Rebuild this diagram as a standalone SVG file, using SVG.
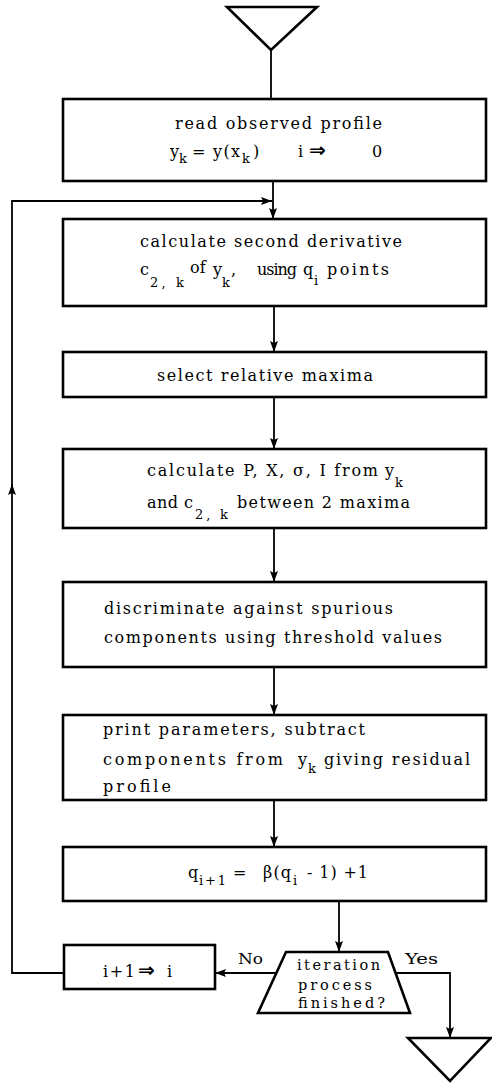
<svg xmlns="http://www.w3.org/2000/svg" width="492" height="1084" viewBox="0 0 492 1084">
<style>
.box{fill:#fff;stroke:#000;stroke-width:2.6}
.term{fill:none;stroke:#000;stroke-width:2.6;stroke-linejoin:miter}
.con{fill:none;stroke:#000;stroke-width:1.8}
.t{font-family:"DejaVu Serif","Liberation Serif",serif;font-size:16px;fill:#000}
.s{font-size:13px}
.d{font-family:"DejaVu Serif","Liberation Serif",serif;font-size:14.5px;fill:#000}
.ar{font-family:"DejaVu Sans",sans-serif;font-weight:bold;font-size:20px}
</style>
<defs>
<marker id="ah" markerUnits="userSpaceOnUse" markerWidth="12" markerHeight="9" refX="11" refY="4" orient="auto">
<path d="M0,0 L11,4 L0,8 L2,4 z" fill="#000"/>
</marker>
</defs>
<rect width="492" height="1084" fill="#fff"/>
<g id="connectors">
<path class="con" d="M271,50 V99"/>
<path class="con" d="M273,181 V219" marker-end="url(#ah)"/>
<path class="con" d="M274,306 V352" marker-end="url(#ah)"/>
<path class="con" d="M274,397 V449" marker-end="url(#ah)"/>
<path class="con" d="M274,528 V582" marker-end="url(#ah)"/>
<path class="con" d="M274,667 V715" marker-end="url(#ah)"/>
<path class="con" d="M274,800 V847" marker-end="url(#ah)"/>
<path class="con" d="M339,901 V952" marker-end="url(#ah)"/>
<path class="con" d="M276,973 H215" marker-end="url(#ah)"/>
<path class="con" d="M396,973 H450 V1038" marker-end="url(#ah)"/>
<path class="con" d="M64,973 H12 V484" marker-end="url(#ah)"/>
<path class="con" d="M12,490 V201 H272" marker-end="url(#ah)"/>
<text class="d" x="238" y="964" textLength="25" lengthAdjust="spacingAndGlyphs">No</text>
<text class="d" x="405" y="964" textLength="33" lengthAdjust="spacingAndGlyphs">Yes</text>
</g>
<g id="start">
<path class="term" d="M227,7 H317 L271,50 Z"/>
</g>
<g id="read">
<rect class="box" x="63" y="99" width="423" height="82"/>
<text class="t" x="175" y="129" textLength="207" lengthAdjust="spacing">read observed profile</text>
<text class="t" y="157"><tspan x="170">y</tspan><tspan class="s" x="179" y="163">k</tspan><tspan x="192" y="157" textLength="48" lengthAdjust="spacing">= y(x</tspan><tspan class="s" x="242" y="163">k</tspan><tspan x="253" y="157">)</tspan><tspan x="298">i</tspan><tspan class="ar" x="309">⇒</tspan><tspan x="372">0</tspan></text>
</g>
<g id="deriv">
<rect class="box" x="63" y="219" width="423" height="87"/>
<text class="t" x="140" y="247" textLength="262" lengthAdjust="spacing">calculate second derivative</text>
<text class="t" y="275"><tspan x="140">c</tspan><tspan class="s" x="150" y="287" textLength="34" lengthAdjust="spacing">2, k</tspan><tspan x="190" y="273">of</tspan><tspan x="213" y="275">y</tspan><tspan class="s" x="222" y="287">k</tspan><tspan x="231" y="275">,</tspan><tspan x="257" textLength="40" lengthAdjust="spacing">using</tspan><tspan x="303">q</tspan><tspan class="s" x="314" y="285">i</tspan><tspan x="327" y="275" textLength="62" lengthAdjust="spacing">points</tspan></text>
</g>
<g id="maxima">
<rect class="box" x="63" y="352" width="423" height="45"/>
<text class="t" x="157" y="381" textLength="216" lengthAdjust="spacing">select relative maxima</text>
</g>
<g id="params">
<rect class="box" x="63" y="449" width="423" height="79"/>
<text class="t" y="476"><tspan x="147" textLength="231" lengthAdjust="spacing">calculate P, X, σ, I from</tspan><tspan x="385">y</tspan><tspan class="s" x="395" y="487">k</tspan></text>
<text class="t" y="508"><tspan x="147" textLength="46" lengthAdjust="spacing">and c</tspan><tspan class="s" x="195" y="519" textLength="33" lengthAdjust="spacing">2, k</tspan><tspan x="237" y="508" textLength="173" lengthAdjust="spacing">between 2 maxima</tspan></text>
</g>
<g id="discriminate">
<rect class="box" x="63" y="582" width="423" height="85"/>
<text class="t" x="104" y="614" textLength="289" lengthAdjust="spacing">discriminate against spurious</text>
<text class="t" x="104" y="643" textLength="338" lengthAdjust="spacing">components using threshold values</text>
</g>
<g id="print">
<rect class="box" x="63" y="715" width="423" height="85"/>
<text class="t" x="103" y="735" textLength="262" lengthAdjust="spacing">print parameters, subtract</text>
<text class="t" y="765"><tspan x="103" textLength="180" lengthAdjust="spacing">components from</tspan><tspan x="298">y</tspan><tspan class="s" x="308" y="773">k</tspan><tspan x="324" y="765" textLength="146" lengthAdjust="spacing">giving residual</tspan></text>
<text class="t" x="103" y="792" textLength="68" lengthAdjust="spacing">profile</text>
</g>
<g id="update">
<rect class="box" x="63" y="847" width="423" height="54"/>
<text class="t" y="878"><tspan x="188">q</tspan><tspan class="s" x="199" y="885" textLength="27" lengthAdjust="spacing">i+1</tspan><tspan x="233" y="878">=</tspan><tspan x="263" textLength="28" lengthAdjust="spacing">β(q</tspan><tspan class="s" x="293" y="885">i</tspan><tspan x="307" y="878" textLength="61" lengthAdjust="spacing">- 1) +1</tspan></text>
</g>
<g id="decision">
<path class="box" d="M286,952 H388 L410,1013 H258 Z"/>
<text class="d" x="297" y="970" textLength="83" lengthAdjust="spacing">iteration</text>
<text class="d" x="298" y="990" textLength="74" lengthAdjust="spacing">process</text>
<text class="d" x="298" y="1008" textLength="87" lengthAdjust="spacing">finished?</text>
</g>
<g id="increment">
<rect class="box" x="64" y="945" width="151" height="44"/>
<text class="t" y="977"><tspan x="103" textLength="32" lengthAdjust="spacing">i+1</tspan><tspan class="ar" x="138">⇒</tspan><tspan x="167">i</tspan></text>
</g>
<g id="end">
<path class="term" d="M408,1038 H491 L450,1081 Z"/>
</g>
</svg>
